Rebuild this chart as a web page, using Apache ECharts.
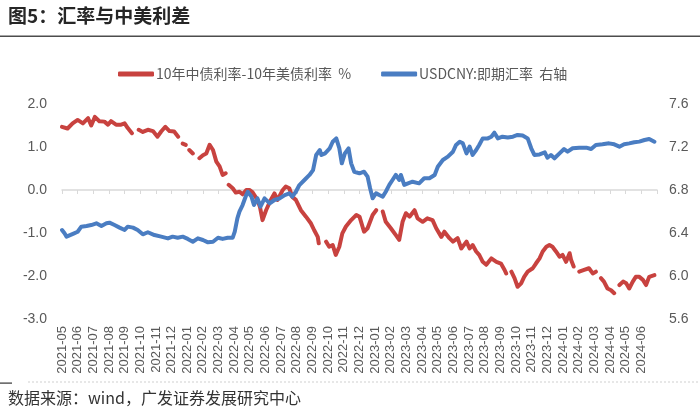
<!DOCTYPE html>
<html>
<head>
<meta charset="utf-8">
<script src="https://cdn.jsdelivr.net/npm/echarts@6/dist/echarts.min.js"></script>
<style>
html,body{margin:0;padding:0;background:#fff;}
#c{width:700px;height:411px;}
</style>
</head>
<body>
<div id="c"></div>
<script>
// ---- data ----
const seriesNames = ['10年中债利率-10年美债利率  %', 'USDCNY:即期汇率  右轴'];

const redDates = ['2021-05-01','2021-05-12','2021-05-22','2021-06-01','2021-06-11','2021-06-21','2021-06-27','2021-07-04','2021-07-13','2021-07-23','2021-07-30','2021-08-05','2021-08-15','2021-08-25','2021-09-01','2021-09-07','2021-09-15','2021-09-21','2021-09-28','2021-10-06','2021-10-16','2021-10-26','2021-11-04','2021-11-11','2021-11-19','2021-11-27','2021-12-06','2021-12-14','2021-12-18','2021-12-23','2021-12-29','2022-01-02','2022-01-05','2022-01-12','2022-01-18','2022-01-25','2022-02-01','2022-02-07','2022-02-13','2022-02-19','2022-02-25','2022-03-03','2022-03-09','2022-03-15','2022-03-18','2022-03-21','2022-03-24','2022-03-29','2022-04-04','2022-04-11','2022-04-17','2022-04-24','2022-04-30','2022-05-06','2022-05-16','2022-05-21','2022-05-26','2022-06-02','2022-06-11','2022-06-18','2022-06-24','2022-07-04','2022-07-10','2022-07-17','2022-07-23','2022-07-30','2022-08-09','2022-08-19','2022-08-29','2022-09-04','2022-09-11','2022-09-13','2022-09-20','2022-09-27','2022-10-03','2022-10-10','2022-10-16','2022-10-23','2022-10-29','2022-11-05','2022-11-15','2022-11-25','2022-12-01','2022-12-10','2022-12-17','2022-12-27','2023-01-03','2023-01-09','2023-01-16','2023-01-22','2023-02-01','2023-02-10','2023-02-16','2023-02-22','2023-02-28','2023-03-07','2023-03-17','2023-03-23','2023-04-02','2023-04-11','2023-04-21','2023-04-28','2023-05-08','2023-05-14','2023-05-24','2023-05-31','2023-06-09','2023-06-16','2023-06-26','2023-07-02','2023-07-08','2023-07-15','2023-07-21','2023-07-28','2023-08-04','2023-08-14','2023-08-24','2023-09-02','2023-09-09','2023-09-12','2023-09-17','2023-09-22','2023-09-28','2023-10-04','2023-10-11','2023-10-17','2023-10-24','2023-11-03','2023-11-09','2023-11-16','2023-11-22','2023-11-29','2023-12-05','2023-12-11','2023-12-18','2023-12-25','2023-12-31','2024-01-07','2024-01-14','2024-01-17','2024-01-22','2024-01-27','2024-02-02','2024-02-11','2024-02-20','2024-02-27','2024-03-04','2024-03-09','2024-03-14','2024-03-20','2024-03-27','2024-04-03','2024-04-09','2024-04-14','2024-04-19','2024-04-26','2024-05-02','2024-05-08','2024-05-15','2024-05-21','2024-05-28','2024-06-04','2024-06-10','2024-06-16','2024-06-26'];
const redValues = [1.47,1.43,1.55,1.63,1.55,1.67,1.50,1.70,1.60,1.59,1.52,1.60,1.52,1.52,1.55,1.44,1.32,null,1.40,1.35,1.40,1.37,1.24,1.36,1.47,1.37,1.36,1.24,null,1.08,1.05,null,0.93,0.85,null,0.74,0.81,0.85,1.05,0.93,0.66,0.55,0.35,0.39,null,0.12,0.08,0.04,-0.06,-0.04,-0.10,0.00,0.00,-0.05,-0.23,-0.40,-0.70,-0.47,-0.23,-0.08,-0.23,0.00,0.08,0.04,-0.16,-0.23,-0.47,-0.62,-0.78,-0.93,-1.09,-1.24,null,-1.20,-1.32,-1.28,-1.51,-1.32,-1.01,-0.85,-0.70,-0.58,-0.62,-0.97,-0.89,-0.58,-0.47,null,-0.50,-0.74,-0.89,-1.05,-1.16,-0.74,-0.54,-0.62,-0.47,-0.66,-0.74,-0.66,-0.70,-0.89,-1.09,-0.97,-1.12,-1.20,-1.12,-1.36,-1.20,-1.36,-1.28,-1.43,-1.51,-1.67,-1.74,-1.59,-1.67,-1.71,-1.86,-1.94,null,-1.90,-2.05,-2.25,-2.17,-2.02,-1.90,-1.82,-1.71,-1.59,-1.43,-1.32,-1.28,-1.32,-1.43,-1.55,-1.51,-1.67,-1.47,-1.63,-1.78,null,-1.90,-1.86,-1.82,-1.94,-1.90,null,-2.05,-2.13,-2.29,-2.33,-2.40,null,-2.21,-2.13,-2.17,-2.29,-2.13,-2.02,-2.02,-2.09,-2.21,-2.02,-1.98];

const blueDates = ['2021-05-01','2021-05-06','2021-05-10','2021-05-25','2021-06-01','2021-06-08','2021-06-18','2021-06-27','2021-07-07','2021-07-17','2021-07-27','2021-08-02','2021-08-12','2021-08-22','2021-09-01','2021-09-07','2021-09-17','2021-09-26','2021-10-06','2021-10-16','2021-10-29','2021-11-11','2021-11-24','2021-12-03','2021-12-13','2021-12-23','2022-01-02','2022-01-12','2022-01-22','2022-02-01','2022-02-10','2022-02-19','2022-02-28','2022-03-09','2022-03-19','2022-03-29','2022-04-02','2022-04-07','2022-04-11','2022-04-17','2022-04-24','2022-04-27','2022-05-04','2022-05-09','2022-05-16','2022-05-22','2022-05-30','2022-06-09','2022-06-18','2022-06-28','2022-07-08','2022-07-17','2022-07-23','2022-07-30','2022-08-06','2022-08-16','2022-08-26','2022-09-02','2022-09-08','2022-09-15','2022-09-18','2022-09-25','2022-10-04','2022-10-10','2022-10-17','2022-10-23','2022-10-28','2022-11-03','2022-11-10','2022-11-15','2022-11-21','2022-12-01','2022-12-10','2022-12-17','2022-12-22','2022-12-27','2023-01-03','2023-01-09','2023-01-16','2023-01-22','2023-01-29','2023-02-04','2023-02-10','2023-02-16','2023-02-19','2023-02-25','2023-03-04','2023-03-13','2023-03-26','2023-04-05','2023-04-15','2023-04-25','2023-05-01','2023-05-11','2023-05-21','2023-05-31','2023-06-06','2023-06-13','2023-06-19','2023-06-26','2023-07-02','2023-07-08','2023-07-15','2023-07-21','2023-07-28','2023-08-07','2023-08-14','2023-08-20','2023-08-27','2023-09-05','2023-09-15','2023-09-25','2023-10-04','2023-10-14','2023-10-24','2023-10-31','2023-11-06','2023-11-16','2023-11-26','2023-12-01','2023-12-08','2023-12-15','2023-12-25','2024-01-03','2024-01-10','2024-01-20','2024-02-02','2024-02-15','2024-02-24','2024-03-04','2024-03-17','2024-03-30','2024-04-09','2024-04-19','2024-04-28','2024-05-08','2024-05-18','2024-05-28','2024-06-07','2024-06-16','2024-06-26'];
const blueValues = [6.428,6.397,6.366,6.397,6.412,6.459,6.465,6.474,6.490,6.465,6.490,6.496,6.474,6.450,6.428,6.459,6.450,6.428,6.388,6.407,6.381,6.366,6.350,6.366,6.356,6.366,6.345,6.319,6.350,6.335,6.313,6.319,6.356,6.345,6.356,6.356,6.412,6.537,6.598,6.660,6.753,6.784,6.740,6.660,6.722,6.645,6.722,6.676,6.707,6.722,6.753,6.769,6.738,6.784,6.846,6.893,6.940,6.985,7.126,7.172,7.125,7.141,7.188,7.249,7.280,7.190,7.048,7.140,7.188,7.048,6.970,6.955,6.970,6.924,6.816,6.723,6.770,6.753,6.738,6.784,6.847,6.893,6.940,6.893,6.940,6.847,6.862,6.877,6.862,6.909,6.909,6.940,7.017,7.079,7.110,7.156,7.219,7.249,7.234,7.141,7.203,7.126,7.172,7.219,7.280,7.280,7.296,7.333,7.280,7.296,7.288,7.296,7.312,7.306,7.280,7.188,7.126,7.131,7.150,7.100,7.126,7.095,7.141,7.181,7.157,7.188,7.194,7.194,7.181,7.219,7.225,7.234,7.225,7.203,7.225,7.234,7.244,7.250,7.265,7.275,7.249];

const leftTicks = [-3, 2, 1];          // min, max, interval
const rightTicks = [5.6, 7.6, 0.4];    // min, max, interval
const startYear = 2021, startMonth = 5, monthCount = 38;

// ---- helpers ----
function monthIndex(s) {
  const p = s.split('-').map(Number);
  const dim = new Date(p[0], p[1], 0).getDate();
  return (p[0] - startYear) * 12 + (p[1] - startMonth) + (p[2] - 1) / dim;
}
function pairs(dates, vals) {
  return dates.map((d, i) => [monthIndex(d), vals[i]]);
}
function monthLabel(v) {
  if (Math.abs(v - Math.round(v)) > 1e-6) return '';
  v = Math.round(v);
  if (v < 0 || v >= monthCount) return '';
  const t = startMonth - 1 + v;
  const y = startYear + Math.floor(t / 12);
  const m = (t % 12) + 1;
  return y + '-' + (m < 10 ? '0' + m : m);
}

const FONT = "'Liberation Sans', 'Noto Sans CJK SC', sans-serif";
const CJK = "'Noto Sans CJK SC', 'Liberation Sans', sans-serif";
const RED = '#C8423F';
const BLUE = '#4A7DC2';

const chart = echarts.init(document.getElementById('c'), null, {renderer: 'canvas'});
chart.setOption({
  backgroundColor: '#ffffff',
  animation: false,
  grid: {left: 62, right: 43, top: 104, bottom: 92, containLabel: false},
  legend: {
    left: 113, top: 62,
    itemWidth: 36, itemHeight: 5, itemGap: 30,
    icon: 'roundRect',
    textStyle: {fontSize: 14, color: '#595959', fontFamily: CJK, padding: [0, 0, 0, -3]},
    data: seriesNames
  },
  xAxis: [
    {
      type: 'value', min: 0, max: monthCount, interval: 1,
      axisLine: {show: true, onZero: true, lineStyle: {color: '#D9D9D9', width: 1.5}},
      axisTick: {show: true, length: 4, lineStyle: {color: '#D9D9D9', width: 1}},
      axisLabel: {show: false},
      splitLine: {show: false}
    },
    {
      type: 'value', min: 0, max: monthCount, interval: 1, position: 'bottom',
      axisLine: {show: false, onZero: false},
      axisTick: {show: false},
      axisLabel: {show: true, rotate: 90, margin: 7, fontSize: 13, color: '#595959', fontFamily: FONT, formatter: monthLabel, interval: 0, hideOverlap: false},
      splitLine: {show: false}
    }
  ],
  yAxis: [
    {
      type: 'value', min: leftTicks[0], max: leftTicks[1], interval: leftTicks[2],
      axisLine: {show: false}, axisTick: {show: false}, splitLine: {show: false},
      axisLabel: {margin: 15, fontSize: 14, color: '#595959', fontFamily: FONT, formatter: v => v.toFixed(1)}
    },
    {
      type: 'value', min: rightTicks[0], max: rightTicks[1], interval: rightTicks[2], position: 'right',
      axisLine: {show: false}, axisTick: {show: false}, splitLine: {show: false},
      axisLabel: {margin: 12, fontSize: 14, color: '#595959', fontFamily: FONT, formatter: v => v.toFixed(1)}
    }
  ],
  series: [
    {
      name: seriesNames[0], type: 'line', xAxisIndex: 0, yAxisIndex: 0,
      data: pairs(redDates, redValues), showSymbol: false, connectNulls: false,
      lineStyle: {color: RED, width: 4, join: 'round', cap: 'round'}, itemStyle: {color: RED}
    },
    {
      name: seriesNames[1], type: 'line', xAxisIndex: 0, yAxisIndex: 1,
      data: pairs(blueDates, blueValues), showSymbol: false,
      lineStyle: {color: BLUE, width: 4, join: 'round', cap: 'round'}, itemStyle: {color: BLUE}
    }
  ],
  graphic: [
    {type: 'text', left: 8, top: 6, style: {text: '图5：汇率与中美利差', fill: '#262626', font: "bold 19px 'Noto Sans CJK SC', sans-serif"}},
    {type: 'rect', shape: {x: 0, y: 35.5, width: 700, height: 1.5}, style: {fill: '#4D4D4D'}},
    {type: 'rect', shape: {x: 0, y: 382.5, width: 12, height: 1.2}, style: {fill: '#333333'}},
    {type: 'line', shape: {x1: 28, y1: 382, x2: 700, y2: 382}, style: {stroke: '#D0D0D0', lineWidth: 1, lineDash: [2, 2]}},
    {type: 'text', left: 8, top: 390, style: {text: '数据来源：wind，广发证券发展研究中心', fill: '#333333', font: "16px 'Noto Sans CJK SC', sans-serif"}}
  ]
});
</script>
</body>
</html>
